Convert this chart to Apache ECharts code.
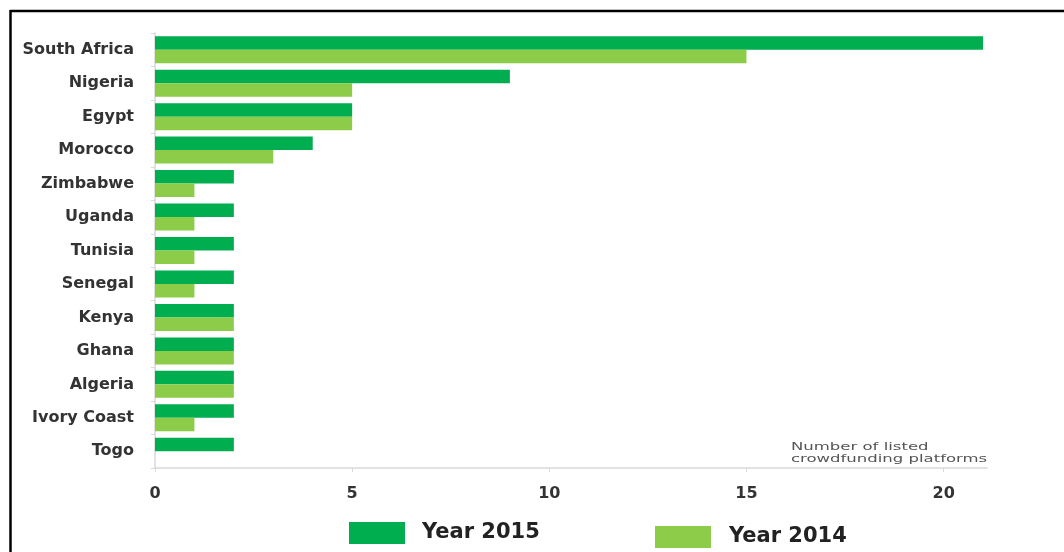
<!DOCTYPE html>
<html>
<head>
<meta charset="utf-8">
<script src="https://cdn.jsdelivr.net/npm/echarts@6/dist/echarts.min.js"></script>
<style>
html,body{margin:0;padding:0;background:#fff;}
#chart{width:1064px;height:552px;}
</style>
</head>
<body>
<div id="chart"></div>
<script>
const countries = ['South Africa','Nigeria','Egypt','Morocco','Zimbabwe','Uganda','Tunisia','Senegal','Kenya','Ghana','Algeria','Ivory Coast','Togo'];
const year2015 = [21, 9, 5, 4, 2, 2, 2, 2, 2, 2, 2, 2, 2];
const year2014 = [15, 5, 5, 3, 1, 1, 1, 1, 2, 2, 2, 1, 0];
const xTicks = [0, 5, 10, 15, 20];
const seriesNames = ['Year 2015', 'Year 2014'];
const noteText = 'Number of listed\ncrowdfunding platforms';

const chart = echarts.init(document.getElementById('chart'), null, {renderer:'canvas'});
chart.setOption({
  animation:false,
  backgroundColor:'#fff',
  grid:{left:155, right:77, top:33, bottom:84, containLabel:false},
  legend:[
    {data:[seriesNames[0]], left:349, top:522, padding:0, itemWidth:56, itemHeight:22, icon:'rect',
     textStyle:{fontFamily:'DejaVu Sans', fontWeight:'bold', fontSize:21, color:'#222', padding:[0,0,0,12]}},
    {data:[seriesNames[1]], left:655, top:526, padding:0, itemWidth:56, itemHeight:22, icon:'rect',
     textStyle:{fontFamily:'DejaVu Sans', fontWeight:'bold', fontSize:21, color:'#222', padding:[0,0,0,13]}}
  ],
  xAxis:{type:'value', min:0, max:21.1, interval:5,
    axisLine:{show:true, lineStyle:{color:'#d9d9d9', width:1.5}},
    axisTick:{show:true, length:4, lineStyle:{color:'#d9d9d9'}},
    splitLine:{show:false},
    axisLabel:{margin:18, fontFamily:'DejaVu Sans', fontWeight:'bold', fontSize:16, color:'#333', showMaxLabel:false,
      formatter:v=>xTicks.includes(v)?String(v):''}
  },
  yAxis:{type:'category', data:countries, inverse:true,
    axisLine:{show:true, lineStyle:{color:'#d9d9d9', width:1.5}},
    axisTick:{show:true, length:4, lineStyle:{color:'#d9d9d9'}},
    axisLabel:{margin:21, fontFamily:'DejaVu Sans', fontWeight:'bold', fontSize:16, color:'#333'}
  },
  series:[
    {name:seriesNames[0], type:'bar', data:year2015, barWidth:13.5, barGap:'0%',
     itemStyle:{color:'#00ad4f'}},
    {name:seriesNames[1], type:'bar', data:year2014, barWidth:13.5, barGap:'0%',
     itemStyle:{color:'#8ccc48'}}
  ],
  graphic:[
    {type:'line', shape:{x1:10, y1:11, x2:1064, y2:11}, style:{stroke:'#000', lineWidth:2.5}},
    {type:'line', shape:{x1:10.5, y1:10, x2:10.5, y2:552}, style:{stroke:'#000', lineWidth:2.5}},
    {type:'text', x:791, y:441, scaleX:1.65, style:{text:noteText, fontFamily:'DejaVu Sans', fontSize:10, lineHeight:12, fill:'#555'}}
  ]
});
</script>
</body>
</html>
